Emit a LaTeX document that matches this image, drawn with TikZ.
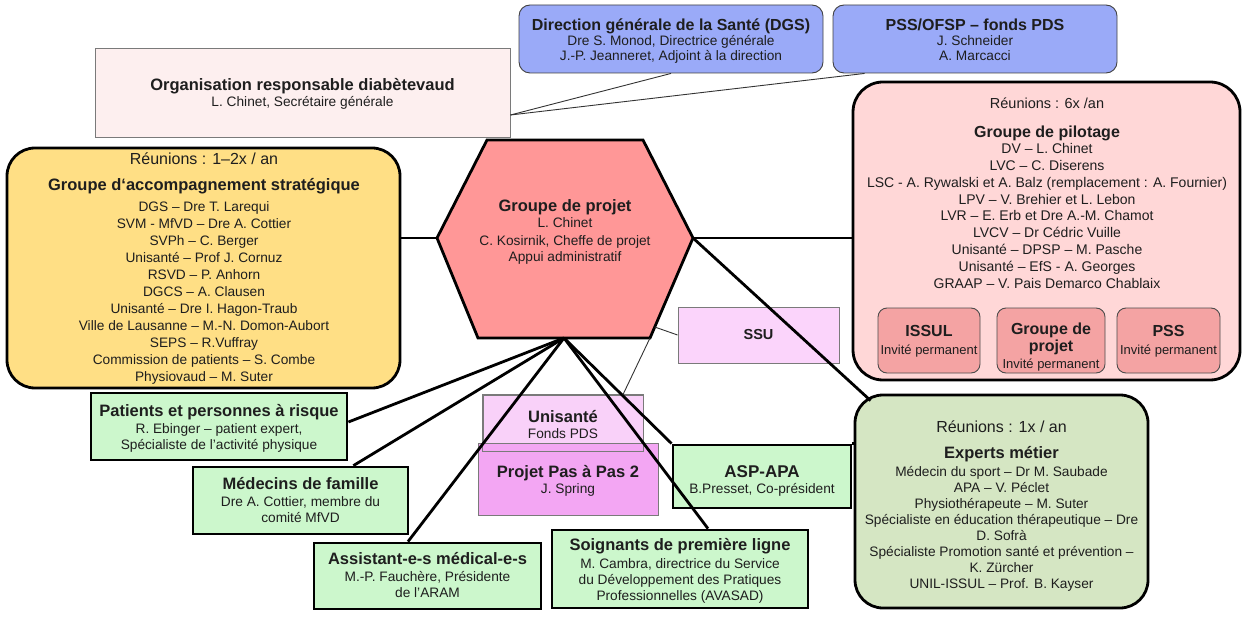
\documentclass[tikz,border=0pt]{standalone}
\usepackage{fontspec}
\setmainfont{Liberation Sans}
\usetikzlibrary{calc}
\definecolor{txtc}{HTML}{1E1E1E}
\definecolor{orgfill}{HTML}{FDEFEF}
\definecolor{bluef}{HTML}{9AAAF8}
\definecolor{hexfill}{HTML}{FF9797}
\definecolor{yel}{HTML}{FFDF85}
\definecolor{pilotf}{HTML}{FFD7D7}
\definecolor{subf}{HTML}{F4A3A3}
\definecolor{ssuf}{HTML}{FBD4FB}
\definecolor{unisf}{HTML}{F9D1F9}
\definecolor{projf}{HTML}{F3A6F3}
\definecolor{greenf}{HTML}{CCF7CC}
\definecolor{expf}{HTML}{D5E6C3}
\definecolor{thinc}{HTML}{7A7A7A}
\newcommand\fsz[2]{\fontsize{#1}{#2}\selectfont}
\newcommand\ttlb[1]{{\bfseries\fsz{16.5}{17}#1}}
\begin{document}
\begin{tikzpicture}[x=1pt,y=-1pt,
  every node/.style={text=txtc, align=center, inner sep=0pt},
  thickbox/.style={draw=black, line width=2.8pt},
  thinbox/.style={draw=thinc, line width=0.9pt},
  subbox/.style={draw=black!70, line width=0.9pt, fill=subf, rounded corners=9pt},
  conn/.style={line width=2.8pt, black},
  thinconn/.style={line width=0.9pt, black!80},
  txt/.style={anchor=base, font=\fsz{13.7}{16}},
]
\useasboundingbox (0,0) rectangle (1246,617);

% ---------- top boxes
\node[thinbox, fill=orgfill, minimum width=415pt, minimum height=89pt] (org) at (302.5,92.5) {};
\node[txt] (orgt) at (302.5,107)
  {\ttlb{Organisation responsable diabètevaud}\\ L. Chinet, Secrétaire générale};
\node[thinbox, draw=black!75, rounded corners=11pt, fill=bluef, minimum width=304pt, minimum height=68pt] (dgs) at (671,39) {};
\node[txt, font=\fsz{13.7}{15}] (dgst) at (671,61)
  {{\bfseries\fsz{16}{16}Direction générale de la Santé (DGS)}\\ Dre S. Monod, Directrice générale\\ J.-P. Jeanneret, Adjoint à la direction};
\node[thinbox, draw=black!75, rounded corners=11pt, fill=bluef, minimum width=284pt, minimum height=68pt] (pss) at (975,39) {};
\node[txt, font=\fsz{13.7}{15}] (psst) at (975,61)
  {{\bfseries\fsz{16}{16}PSS/OFSP – fonds PDS}\\ J. Schneider\\ A. Marcacci};

% ---------- hexagon
\coordinate (hA) at (487,140);
\coordinate (hB) at (643,140);
\coordinate (hR) at (693,238);
\coordinate (hC) at (650,338);
\coordinate (hD) at (478,338);
\coordinate (hL) at (437,238);
\coordinate (hBot) at (564,338);
\draw[conn, fill=hexfill, line join=miter] (hA) -- (hB) -- (hR) -- (hC) -- (hD) -- (hL) -- cycle;
\node[txt, font=\fsz{13.7}{17}] (hex) at (565,262)
  {\ttlb{Groupe de projet}\\ L. Chinet\\ C. Kosirnik, Cheffe de projet\\ Appui administratif};

% ---------- yellow box
\node[thickbox, rounded corners=28pt, fill=yel, minimum width=393pt, minimum height=240pt] (gas) at (203.5,268) {};
\node[txt, font=\fsz{13.7}{17}] (gast) at (204,381)
  {{\fsz{16}{17}Réunions : 1–2x / an}\\[9pt]
   \ttlb{Groupe d‘accompagnement stratégique}\\[4pt]
   DGS – Dre T. Larequi\\
   SVM - MfVD – Dre A. Cottier\\
   SVPh – C. Berger\\
   Unisanté – Prof J. Cornuz\\
   RSVD – P. Anhorn\\
   DGCS – A. Clausen\\
   Unisanté – Dre I. Hagon-Traub\\
   Ville de Lausanne – M.-N. Domon-Aubort\\
   SEPS – R.Vuffray\\
   Commission de patients – S. Combe\\
   Physiovaud – M. Suter};

% ---------- pilotage box
\node[thickbox, rounded corners=30pt, fill=pilotf, minimum width=387pt, minimum height=298pt] (pilot) at (1046.5,231) {};
\node[txt, font=\fsz{14}{16.75}] (pilott) at (1047,288)
  {{\fsz{14.5}{16.75}Réunions : 6x /an}\\[12pt]
   {\bfseries\fsz{16}{16.75}Groupe de pilotage}\\
   DV – L. Chinet\\
   LVC – C. Diserens\\
   LSC - A. Rywalski et A. Balz (remplacement : A. Fournier)\\
   LPV – V. Brehier et L. Lebon\\
   LVR – E. Erb et Dre A.-M. Chamot\\
   LVCV – Dr Cédric Vuille\\
   Unisanté – DPSP – M. Pasche\\
   Unisanté – EfS -  A. Georges\\
   GRAAP – V. Pais Demarco Chablaix};
\node[subbox, minimum width=102pt, minimum height=65pt] (issul) at (929,340.5) {};
\node[txt, font=\fsz{13}{18}] (issult) at (929,354) {{\bfseries\fsz{16}{18}ISSUL}\\ Invité permanent};
\node[subbox, minimum width=108pt, minimum height=65pt] (gpsub) at (1051,340.5) {};
\node[txt, font=\fsz{13}{17}] (gpsubt) at (1051,368) {{\bfseries\fsz{16}{17}Groupe de}\\{\bfseries\fsz{16}{17}projet}\\ Invité permanent};
\node[subbox, minimum width=103pt, minimum height=65pt] (psssub) at (1168.5,340.5) {};
\node[txt, font=\fsz{13}{18}] (psssubt) at (1168.5,354) {{\bfseries\fsz{16}{18}PSS}\\ Invité permanent};

% ---------- SSU
\node[thinbox, fill=ssuf, minimum width=161pt, minimum height=56pt, font=\bfseries\fsz{14.5}{17}] (ssu) at (758.5,335) {SSU};

% ---------- Unisante / Projet
\node[thinbox, fill=unisf, minimum width=160pt, minimum height=56pt] (unis) at (563,423) {};
\node[thinbox, fill=projf, minimum width=180pt, minimum height=72pt] (projet) at (568,479) {};
\draw[thinbox] (unis.north west) rectangle (unis.south east);
\node[txt, font=\fsz{13.7}{16}] (unist) at (563,438) {\ttlb{Unisanté}\\ Fonds PDS};
\node[txt, font=\fsz{13.7}{16}] (projt) at (568,493) {\ttlb{Projet Pas à Pas 2}\\ J. Spring};

% ---------- green boxes
\node[thickbox, fill=greenf, minimum width=256pt, minimum height=67pt] (pat) at (219,426.5) {};
\node[txt] (patt) at (219,449)
  {\ttlb{Patients et personnes à risque}\\[1pt] R. Ebinger – patient expert,\\ Spécialiste de l’activité physique};
\node[thickbox, fill=greenf, minimum width=215pt, minimum height=67pt] (med) at (300.5,500.5) {};
\node[txt] (medt) at (300.5,522)
  {\ttlb{Médecins de famille}\\[1pt] Dre A. Cottier, membre du\\ comité MfVD};
\node[thickbox, fill=greenf, minimum width=227pt, minimum height=66pt] (assist) at (427.5,576) {};
\node[txt] (assistt) at (427.5,597)
  {\ttlb{Assistant-e-s médical-e-s}\\[1pt] M.-P. Fauchère, Présidente\\ de l'ARAM};
\node[thickbox, fill=greenf, minimum width=256pt, minimum height=78pt] (soign) at (680,569) {};
\node[txt] (soignt) at (680,600)
  {\ttlb{Soignants de première ligne}\\[2pt] M. Cambra, directrice du Service\\ du Développement des Pratiques\\ Professionnelles (AVASAD)};
\node[thickbox, fill=greenf, minimum width=178pt, minimum height=63pt] (asp) at (762,476.5) {};
\node[txt] (aspt) at (762,493)
  {{\bfseries\fsz{17}{17}ASP-APA}\\ B.Presset, Co-président};

% ---------- experts
\node[thickbox, rounded corners=28pt, fill=expf, minimum width=293pt, minimum height=213pt] (experts) at (1001.5,501.5) {};
\node[txt, font=\fsz{13.7}{16}] (expt) at (1001.5,588)
  {{\fsz{16}{16}Réunions : 1x / an}\\[10pt]
   \ttlb{Experts métier}\\[2pt]
   Médecin du sport – Dr M. Saubade\\
   APA – V. Péclet\\
   Physiothérapeute – M. Suter\\
   Spécialiste en éducation thérapeutique – Dre\\
   D. Sofrà\\
   Spécialiste Promotion santé et prévention –\\
   K. Zürcher\\
   UNIL-ISSUL – Prof. B. Kayser};

% ---------- connectors
\coordinate (orgR) at ($(org.east)+(0,22.5)$);
\draw[thinconn] (orgR) -- (dgs.south);
\draw[thinconn] (orgR) -- ($(pss.south west)+(32,0)$);
\draw[conn] (hL) -- (hL -| gas.east);
\draw[conn] (hR) -- (hR -| pilot.west);
\draw[conn] (hBot) -- ($(pat.east)+(0,-4.5)$);
\draw[conn] (hBot) -- ($(med.north east)+(-56,0)$);
\draw[conn] (hBot) -- ($(assist.north)+(-19.5,0)$);
\draw[conn] (hBot) -- ($(soign.north)+(28,0)$);
\draw[conn] (hBot) -- (asp.north west);
\draw[thinconn] (hC) -- ($(unis.north)+(60,0)$);
\draw[thinconn] ($(hR)!0.89!(hC)$) -- (ssu.west);
\draw[conn] (hR) -- ($(experts.north west)+(17,7)$);
\draw[conn] (asp.north east) -- (asp.north east -| experts.west);
\end{tikzpicture}
\end{document}
